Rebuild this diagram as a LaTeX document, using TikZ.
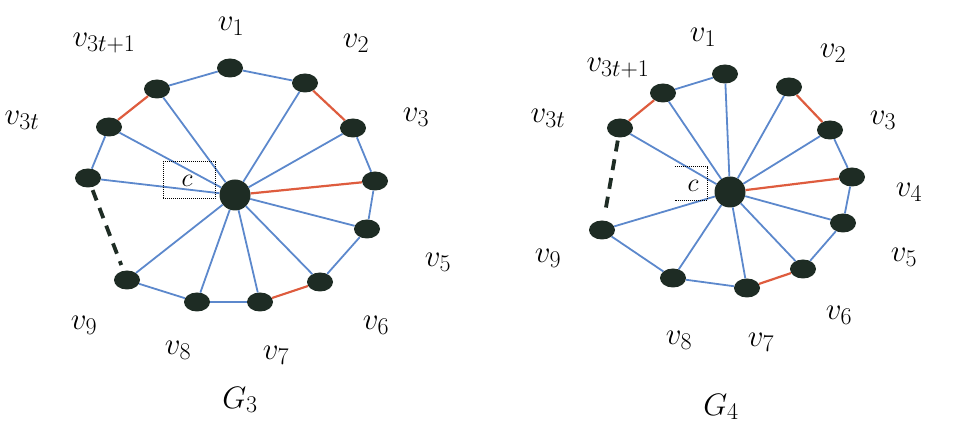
\RequirePackage{fix-cm}
\documentclass[tikz,border=0pt]{standalone}
\usetikzlibrary{shapes.geometric}
\DeclareMathSizes{31}{31}{24}{18}
\definecolor{vtx}{RGB}{30,44,36}
\definecolor{edgeblue}{RGB}{92,136,204}
\definecolor{edgered}{RGB}{222,92,62}
\begin{document}
\begin{tikzpicture}[x=1pt,y=-1pt,
  vert/.style={ellipse, fill=vtx, minimum width=26pt, minimum height=19pt, inner sep=0pt},
  hub/.style={circle, fill=vtx, minimum size=31pt, inner sep=0pt},
  be/.style={draw=edgeblue, line width=1.8pt},
  re/.style={draw=edgered, line width=2.2pt},
  gapline/.style={draw=vtx, line width=3.8pt, dash pattern=on 11pt off 8pt, shorten <=3pt, shorten >=6pt},
  lab/.style={font=\fontsize{31}{34}\selectfont, inner sep=0pt},
  cbox/.style={font=\fontsize{26}{30}\selectfont, inner sep=0pt}]
\useasboundingbox (0,0) rectangle (967,435);

% ---------- G_3 ----------
\node[hub]  (c)   at (235,195) {};
\node[vert] (a1)  at (230,68)  {};
\node[vert] (a2)  at (305,83)  {};
\node[vert] (a3)  at (353,128) {};
\node[vert] (a4)  at (375,181) {};
\node[vert] (a5)  at (367,229) {};
\node[vert] (a6)  at (320,282) {};
\node[vert] (a7)  at (260,302) {};
\node[vert] (a8)  at (197,302) {};
\node[vert] (a9)  at (127,280) {};
\node[vert] (ax)  at (88,178)  {};
\node[vert] (at)  at (109,127) {};
\node[vert] (au)  at (157,89)  {};

\draw[be] (a1) -- (a2);
\draw[re] (a2) -- (a3);
\draw[be] (a3) -- (a4);
\draw[be] (a4) -- (a5);
\draw[be] (a5) -- (a6);
\draw[re] (a6) -- (a7);
\draw[be] (a7) -- (a8);
\draw[be] (a8) -- (a9);
\draw[gapline] (ax) -- (a9);
\draw[be] (ax) -- (at);
\draw[re] (at) -- (au);
\draw[be] (au) -- (a1);
\foreach \v in {a2,a3,a5,a6,a7,a8,a9,ax,at,au} \draw[be] (c) -- (\v);
\draw[re] (c) -- (a4);

\node[cbox, draw, densely dotted, line width=1pt, minimum width=52pt, minimum height=37pt] (boxa) at (189,180.5) {};
\node[cbox] (ca) at (187,181) {$c$};

\node[lab] (la1) at (231,26)  {$v_1$};
\node[lab] (la2) at (356,43)  {$v_2$};
\node[lab] (la3) at (416,117) {$v_3$};
\node[lab] (la5) at (438,262) {$v_5$};
\node[lab] (la6) at (376,325) {$v_6$};
\node[lab] (la7) at (276,355) {$v_7$};
\node[lab] (la8) at (178,350) {$v_8$};
\node[lab] (la9) at (84,325)  {$v_9$};
\node[lab] (lat) at (22,120)  {$v_{3t}$};
\node[lab] (lau) at (104,43)  {$v_{3t+1}$};
\node[lab] (g3)  at (240,400) {$G_3$};

% ---------- G_4 ----------
\node[hub]  (d)   at (730,192) {};
\node[vert] (b1)  at (725,74)  {};
\node[vert] (b2)  at (789,87)  {};
\node[vert] (b3)  at (830,130) {};
\node[vert] (b4)  at (852,177) {};
\node[vert] (b5)  at (843,223) {};
\node[vert] (b6)  at (803,269) {};
\node[vert] (b7)  at (747,288) {};
\node[vert] (b8)  at (673,278) {};
\node[vert] (b9)  at (602,230) {};
\node[vert] (bt)  at (620,128) {};
\node[vert] (bu)  at (663,93)  {};

\draw[re] (b2) -- (b3);
\draw[be] (b3) -- (b4);
\draw[be] (b4) -- (b5);
\draw[be] (b5) -- (b6);
\draw[re] (b6) -- (b7);
\draw[be] (b7) -- (b8);
\draw[be] (b8) -- (b9);
\draw[gapline] (bt) -- (b9);
\draw[re] (bt) -- (bu);
\draw[be] (bu) -- (b1);
\foreach \v in {b1,b2,b3,b5,b6,b7,b8,b9,bt,bu} \draw[be] (d) -- (\v);
\draw[re] (d) -- (b4);

\node[cbox, minimum width=32pt, minimum height=33pt] (boxb) at (691,183.5) {};
\draw[densely dotted, line width=1pt] (boxb.north west) -- (boxb.north east) -- (boxb.south east) -- (boxb.south west);
\node[cbox] (cb) at (693,186) {$c$};

\node[lab] (lb1) at (703,37)  {$v_1$};
\node[lab] (lb2) at (833,53)  {$v_2$};
\node[lab] (lb3) at (883,120) {$v_3$};
\node[lab] (lb4) at (909,192) {$v_4$};
\node[lab] (lb5) at (904,257) {$v_5$};
\node[lab] (lb6) at (839,315) {$v_6$};
\node[lab] (lb7) at (761,342) {$v_7$};
\node[lab] (lb8) at (679,340) {$v_8$};
\node[lab] (lb9) at (548,258) {$v_9$};
\node[lab] (lbt) at (548,118) {$v_{3t}$};
\node[lab] (lbu) at (618,68)  {$v_{3t+1}$};
\node[lab] (g4)  at (721,407) {$G_4$};
\end{tikzpicture}
\end{document}
